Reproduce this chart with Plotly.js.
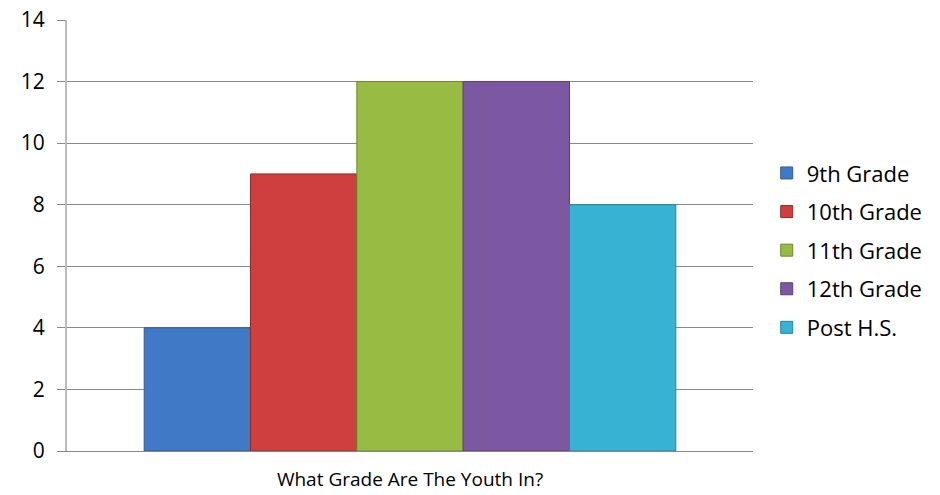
<!DOCTYPE html>
<html>
<head>
<meta charset="utf-8">
<script src="https://cdn.plot.ly/plotly-3.0.1.min.js"></script>
<style>html,body{margin:0;padding:0;background:#fff;}#chart{width:940px;height:495px;}</style>
</head>
<body>
<div id="chart"></div>
<script>
var category = ['What Grade Are The Youth In?'];
var seriesNames = ['9th Grade', '10th Grade', '11th Grade', '12th Grade', 'Post H.S.'];
var seriesValues = [4, 9, 12, 12, 8];
var seriesColors = ['#4079c6', '#cf3f3f', '#98bb44', '#7c58a2', '#38b2d2'];
var seriesEdges = ['#2e5a96', '#8f2a2a', '#6e8a2c', '#5a3e7a', '#26869e'];
var yTicks = [0, 2, 4, 6, 8, 10, 12, 14];

var traces = seriesNames.map(function(name, i){
  return {
    type: 'bar',
    name: name,
    legendgroup: 'g' + i,
    x: category,
    y: [seriesValues[i]],
    marker: {color: seriesColors[i], line: {color: seriesEdges[i], width: 1}},
    hoverinfo: 'name+y'
  };
});

var layout = {
  width: 940, height: 495,
  margin: {l: 67, r: 185, t: 20, b: 44},
  paper_bgcolor: '#ffffff', plot_bgcolor: '#ffffff',
  barmode: 'group', bargap: 0.225, bargroupgap: 0,
  font: {family: 'Open Sans, Lato, sans-serif', color: '#000', size: 19},
  xaxis: {
    type: 'category', range: [-0.5, 0.5],
    showgrid: false, zeroline: false,
    showline: true, linecolor: '#888', linewidth: 1,
    ticks: '', ticklabelstandoff: 11,
    tickfont: {size: 19, family: 'Open Sans, Lato, sans-serif', color: '#000'}
  },
  yaxis: {
    range: [0, 14], tickvals: yTicks, ticktext: yTicks.map(String),
    showgrid: true, gridcolor: '#888', gridwidth: 1,
    zeroline: false, showline: true, linecolor: '#bbb', linewidth: 2,
    ticks: 'outside', ticklen: 8, tickcolor: '#888',
    ticklabelstandoff: 8,
    tickfont: {size: 21, family: 'Open Sans, Lato, sans-serif', color: '#000'}
  },
  legend: {
    x: 1.02, y: 0.466, xanchor: 'left', yanchor: 'middle',
    font: {size: 22, family: 'Open Sans, Lato, sans-serif', color: '#000'},
    itemwidth: 30, tracegroupgap: 7
  },
  showlegend: true
};

Plotly.newPlot('chart', traces, layout, {displayModeBar: false, staticPlot: true});
</script>
</body>
</html>
